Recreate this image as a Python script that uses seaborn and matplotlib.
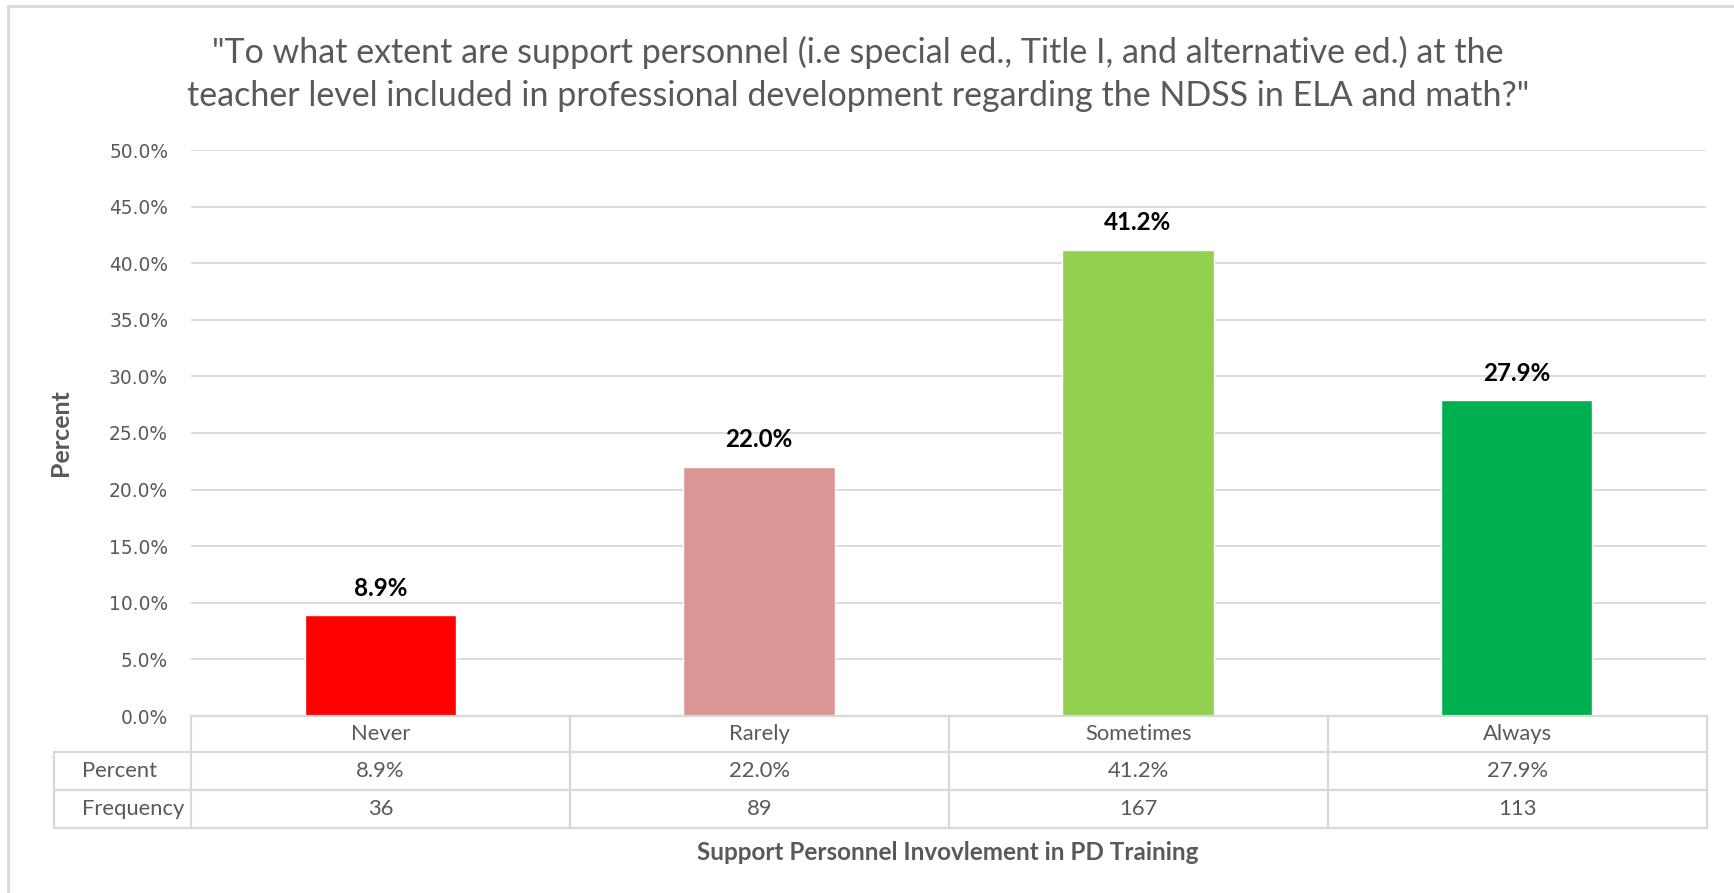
import matplotlib
matplotlib.use("Agg")
import matplotlib.pyplot as plt
import seaborn as sns
import pandas as pd
from matplotlib.patches import Rectangle
from matplotlib.lines import Line2D

# Survey responses
categories = ["Never", "Rarely", "Sometimes", "Always"]
percent = [8.9, 22.0, 41.2, 27.9]
frequency = [36, 89, 167, 113]
bar_colors = ["#FF0000", "#DA9694", "#92D050", "#00B050"]
y_ticks = [0, 5, 10, 15, 20, 25, 30, 35, 40, 45, 50]

title = ('"To what extent are support personnel (i.e special ed., Title I, and alternative ed.) at the\n'
         'teacher level included in professional development regarding the NDSS in ELA and math?"')
x_title = "Support Personnel Invovlement in PD Training"
y_title = "Percent"

sns.set_theme(style="white")
plt.rcParams["font.family"] = ["Lato", "DejaVu Sans"]

W, H = 1734, 893
fig = plt.figure(figsize=(W / 100, H / 100), dpi=100)
ax = fig.add_axes([191 / W, 1 - 716 / H, (1706 - 191) / W, (716 - 150) / H])

df = pd.DataFrame({"category": categories, "percent": percent})
sns.barplot(data=df, x="category", y="percent", hue="category", order=categories,
            hue_order=categories, palette=bar_colors, width=0.4, legend=False,
            saturation=1, ax=ax, zorder=3)

ax.set_xlim(-0.5, len(categories) - 0.5)
ax.set_ylim(0, 50)
ax.set_yticks(y_ticks)
ax.set_yticklabels([f"{t:.1f}%" for t in y_ticks], family="DejaVu Sans",
                   fontsize=13.4, color="#595959")
ax.tick_params(axis="y", length=0, pad=16.5)
ax.set_xticks([])
ax.set_xlabel("")
ax.set_ylabel("")
ax.grid(axis="y", color="#D9D9D9", linewidth=1.3, zorder=0)
for s in ax.spines.values():
    s.set_visible(False)

# Value labels above the bars
for i, v in enumerate(percent):
    ax.annotate(f"{v:.1f}%", (i, v), xytext=(0, 27), textcoords="offset pixels",
                ha="center", va="center", fontsize=17.4, fontweight="bold", color="black")

# Data table beneath the plot, in figure pixel coordinates
def fx(px):
    return px / W

def fy(py):
    return 1 - py / H

grid_c = "#D9D9D9"
lw = 1.6
x0, x_axis, x1 = 54, 191, 1707
y_rows = [716, 752, 790, 828]
col_w = (x1 - x_axis) / len(categories)
col_edges = [x_axis + k * col_w for k in range(len(categories) + 1)]

# horizontal rules
fig.add_artist(Line2D([fx(x_axis), fx(x1)], [fy(y_rows[0])] * 2, color=grid_c, lw=lw))
for yy in y_rows[1:]:
    fig.add_artist(Line2D([fx(x0), fx(x1)], [fy(yy)] * 2, color=grid_c, lw=lw))
# vertical rules
for xe in col_edges:
    fig.add_artist(Line2D([fx(xe)] * 2, [fy(y_rows[0]), fy(y_rows[3])], color=grid_c, lw=lw))
fig.add_artist(Line2D([fx(x0)] * 2, [fy(y_rows[1]), fy(y_rows[3])], color=grid_c, lw=lw))

txt_c = "#595959"
tsize = 15.8
for k, cat in enumerate(categories):
    cx = fx(col_edges[k] + col_w / 2)
    fig.text(cx, fy((y_rows[0] + y_rows[1]) / 2), cat, ha="center", va="center",
             fontsize=tsize, color=txt_c)
    fig.text(cx, fy((y_rows[1] + y_rows[2]) / 2), f"{percent[k]:.1f}%", ha="center",
             va="center", fontsize=tsize, color=txt_c)
    fig.text(cx, fy((y_rows[2] + y_rows[3]) / 2), f"{frequency[k]}", ha="center",
             va="center", fontsize=tsize, color=txt_c)
fig.text(fx(82), fy((y_rows[1] + y_rows[2]) / 2), "Percent", ha="left", va="center",
         fontsize=tsize, color=txt_c)
fig.text(fx(82), fy((y_rows[2] + y_rows[3]) / 2), "Frequency", ha="left", va="center",
         fontsize=tsize, color=txt_c)

# Titles
fig.text(fx(858), fy(74), title, ha="center", va="center", fontsize=24.5,
         color=txt_c, linespacing=1.4)
fig.text(fx(948), fy(852), x_title, ha="center", va="center", fontsize=17.5,
         fontweight="bold", color=txt_c)
fig.text(fx(61), fy(433), y_title, ha="center", va="center", fontsize=18,
         fontweight="bold", color=txt_c, rotation=90)

# Chart border
fig.add_artist(Rectangle((fx(8), fy(H + 20)), 1.1, fy(6) - fy(H + 20), fill=False,
                         edgecolor="#D9D9D9", lw=2))

fig.savefig("out.png", dpi=100, facecolor="white")
